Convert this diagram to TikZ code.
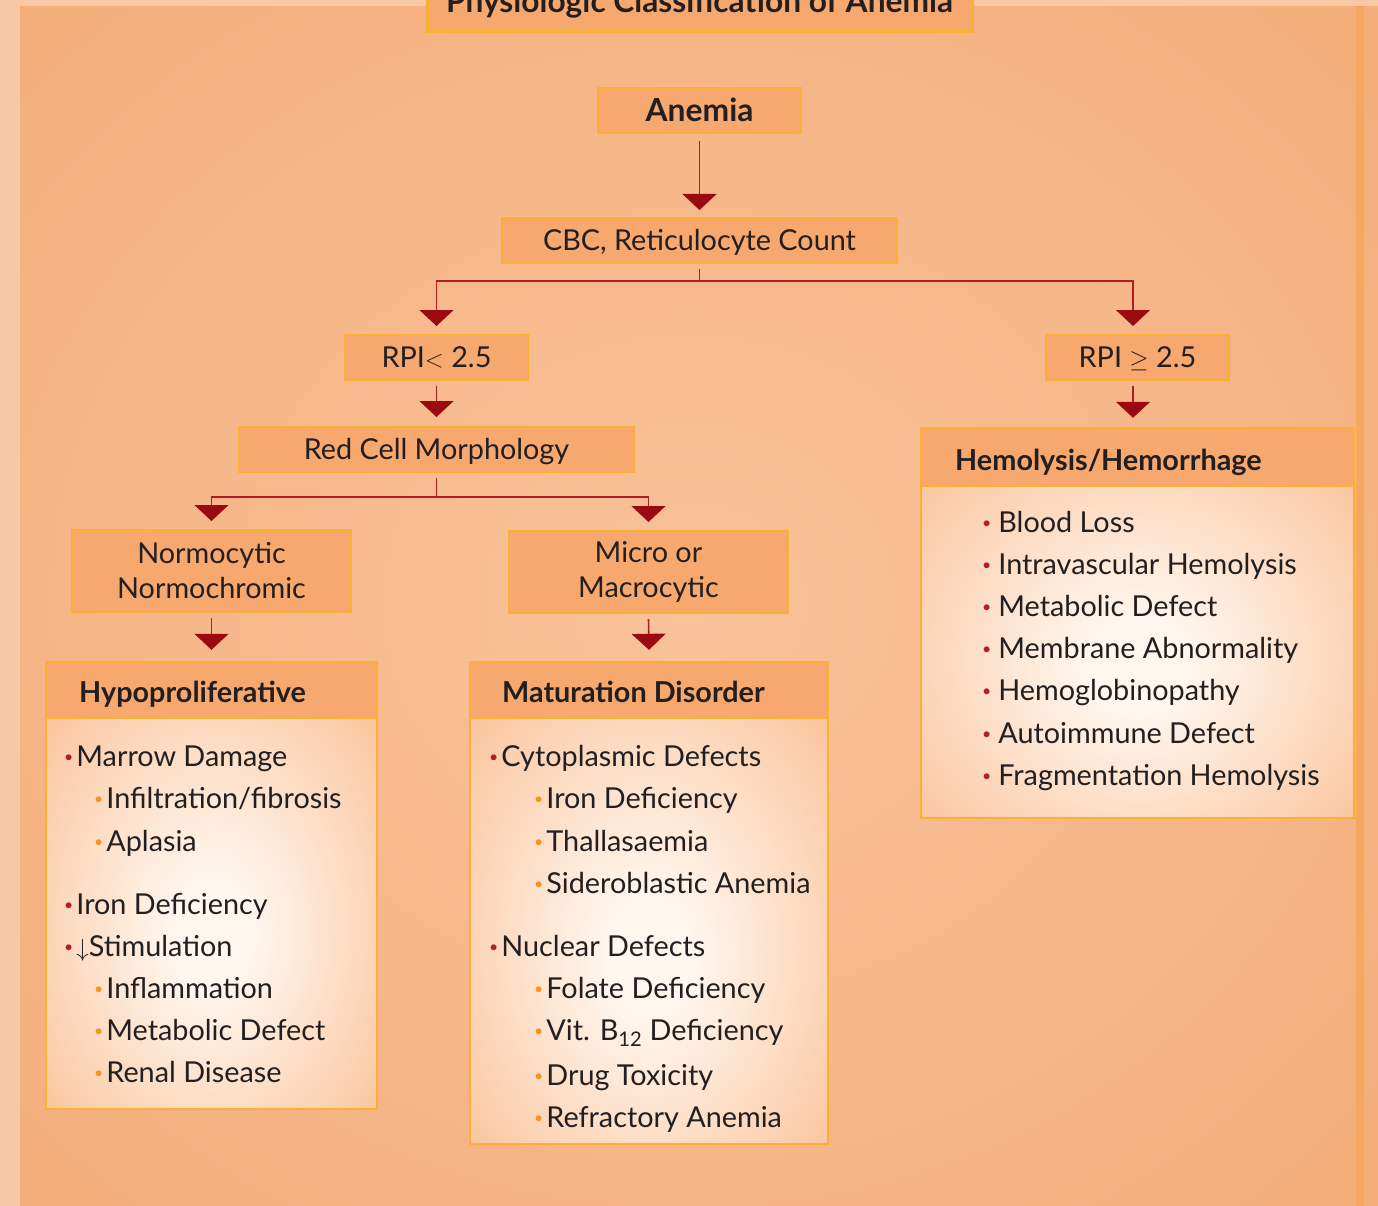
\documentclass[tikz,border=0pt]{standalone}
\usepackage{fontspec}
\setmainfont{Lato}
\usetikzlibrary{arrows.meta}
\definecolor{pagein}{RGB}{249,194,154}
\definecolor{pageout}{RGB}{241,165,110}
\definecolor{pagerim}{RGB}{249,201,166}
\definecolor{boxfill}{RGB}{247,168,110}
\definecolor{boxedge}{RGB}{251,176,52}
\definecolor{linkred}{RGB}{178,28,34}
\definecolor{tipred}{RGB}{155,10,16}
\definecolor{inkdark}{RGB}{35,31,32}
\definecolor{dotred}{RGB}{180,30,40}
\definecolor{dotorange}{RGB}{247,148,29}
\definecolor{glowin}{RGB}{255,246,238}
\pgfdeclareradialshading{glow}{\pgfpoint{0bp}{-6bp}}{color(0bp)=(glowin); color(6bp)=(glowin); color(50bp)=(boxfill); color(80bp)=(boxfill)}
\pgfdeclareradialshading{pageglow}{\pgfpoint{0bp}{0bp}}{color(0bp)=(pagein); color(50bp)=(pageout); color(75bp)=(pageout)}
\newcommand{\reddot}{\textcolor{dotred}{\raisebox{.25ex}{\scalebox{.55}{\textbullet}}}\hspace{3pt}}
\newcommand{\orangedot}{\textcolor{dotorange}{\raisebox{.25ex}{\scalebox{.55}{\textbullet}}}\hspace{3pt}}
\begin{document}
\begin{tikzpicture}[x=1pt,y=-1pt,
	smallbox/.style={draw=boxedge,line width=2pt,fill=boxfill,inner sep=0pt,text=inkdark,font=\fontsize{28.8}{35}\selectfont,align=center},
	bigbox/.style={shading=glow,inner sep=0pt},
	rim/.style={draw=boxedge,line width=2pt},
	head/.style={anchor=base west,inner sep=0pt,text=inkdark,font=\fontsize{28.8}{33}\selectfont\bfseries},
	item/.style={anchor=base west,inner sep=0pt,text=inkdark,font=\fontsize{28.8}{33}\selectfont},
	link/.style={draw=linkred,line width=1.6pt,-{Triangle[width=34pt,length=16pt,color=tipred]}}]
	\useasboundingbox (0,0) rectangle (1378,1206);
	\shade[shading=pageglow] (0,0) rectangle (1378,1206);
	\fill[pagerim] (0,0) rectangle (20,1206);
	\fill[pagerim] (0,0) rectangle (1378,6);
	\fill[boxedge!25!pageout] (1356,6) rectangle (1364,1206);
	\node[smallbox,minimum width=545,minimum height=58,text height=20,text depth=0,line width=3pt,font=\fontsize{31.7}{36}\selectfont\bfseries] (title) at (699.5,3) {Physiologic Classification of Anemia};
	\node[smallbox,minimum width=203,minimum height=45,text height=23,text depth=0,font=\fontsize{31.8}{36}\selectfont\bfseries] (anemia) at (699.5,110.5) {Anemia};
	\node[smallbox,minimum width=395,minimum height=45,text height=20,text depth=0] (cbc) at (699.5,240.5) {CBC, Reticulocyte Count};
	\node[smallbox,minimum width=183,minimum height=45,text height=20,text depth=0] (rpilow) at (436.5,357.5) {RPI$<$\ 2.5};
	\node[smallbox,minimum width=183,minimum height=45,text height=20,text depth=0] (rpihigh) at (1137.5,357.5) {RPI $\geq$ 2.5};
	\node[smallbox,minimum width=395,minimum height=45,text height=20,text depth=0] (redcell) at (436.5,449.5) {Red Cell Morphology};
	\node[smallbox,minimum width=279,minimum height=82] (normo) at (211.5,571) {Normocytic\\Normochromic};
	\node[smallbox,minimum width=279,minimum height=82] (micro) at (648.5,572) {Micro or\\Macrocytic};
	\node[bigbox,minimum width=433,minimum height=390] (hemo) at (1137.5,623) {};
	\node[bigbox,minimum width=331,minimum height=447] (hypo) at (211.5,885.5) {};
	\node[bigbox,minimum width=358,minimum height=482] (matur) at (649,903) {};
	\fill[boxfill] (hemo.north west) rectangle ([yshift=-58pt]hemo.north east);
	\fill[boxfill] (hypo.north west) rectangle ([yshift=-56pt]hypo.north east);
	\fill[boxfill] (matur.north west) rectangle ([yshift=-56pt]matur.north east);
	\draw[rim] (hemo.north west) rectangle (hemo.south east);
	\draw[rim] (hypo.north west) rectangle (hypo.south east);
	\draw[rim] (matur.north west) rectangle (matur.south east);
	\draw[rim,line width=1.5pt] ([yshift=-58pt]hemo.north west) -- ([yshift=-58pt]hemo.north east);
	\draw[rim,line width=1.5pt] ([yshift=-56pt]hypo.north west) -- ([yshift=-56pt]hypo.north east);
	\draw[rim,line width=1.5pt] ([yshift=-56pt]matur.north west) -- ([yshift=-56pt]matur.north east);
	\draw[link] ([yshift=-7pt]anemia.south) -- ([yshift=7pt]cbc.north);
	\draw[link] ([yshift=-5pt]cbc.south) -- ++(0,12) -| ([yshift=8pt]rpilow.north);
	\draw[link] ([yshift=-5pt]cbc.south) -- ++(0,12) -| ([xshift=-4.5pt,yshift=8pt]rpihigh.north);
	\draw[link] ([yshift=-5pt]rpilow.south) -- ([yshift=9pt]redcell.north);
	\draw[link] ([xshift=-4.5pt,yshift=-5pt]rpihigh.south) -- ([xshift=-4.5pt,yshift=10pt]hemo.north);
	\draw[link] ([yshift=-5pt]redcell.south) -- ++(0,19) -| ([yshift=8pt]normo.north);
	\draw[link] ([yshift=-5pt]redcell.south) -- ++(0,19) -| ([yshift=8pt]micro.north);
	\draw[link] ([yshift=-5pt]normo.south) -- ([yshift=12pt]hypo.north);
	\draw[link] ([yshift=-5pt]micro.south) -- ([yshift=12pt]matur.north);
	\node[head] (hemohead) at (955,470) {Hemolysis/Hemorrhage};
	\node[head] (hypohead) at (79,702) {Hypoproliferative};
	\node[head] (maturhead) at (502,702) {Maturation Disorder};
	\node[item] (hemo1) at (982,532) {\reddot\hspace{4pt}Blood Loss};
	\node[item] (hemo2) at (982,574) {\reddot\hspace{4pt}Intravascular Hemolysis};
	\node[item] (hemo3) at (982,616) {\reddot\hspace{4pt}Metabolic Defect};
	\node[item] (hemo4) at (982,658) {\reddot\hspace{4pt}Membrane Abnormality};
	\node[item] (hemo5) at (982,700) {\reddot\hspace{4pt}Hemoglobinopathy};
	\node[item] (hemo6) at (982,743) {\reddot\hspace{4pt}Autoimmune Defect};
	\node[item] (hemo7) at (982,785) {\reddot\hspace{4pt}Fragmentation Hemolysis};
	\node[item] (hypo1) at (64,766) {\reddot Marrow Damage};
	\node[item] (hypo2) at (94,808) {\orangedot Infiltration/fibrosis};
	\node[item] (hypo3) at (94,851) {\orangedot Aplasia};
	\node[item] (hypo4) at (64,914) {\reddot Iron Deficiency};
	\node[item] (hypo5) at (64,956) {\reddot$\downarrow$Stimulation};
	\node[item] (hypo6) at (94,998) {\orangedot Inflammation};
	\node[item] (hypo7) at (94,1040) {\orangedot Metabolic Defect};
	\node[item] (hypo8) at (94,1082) {\orangedot Renal Disease};
	\node[item] (matur1) at (489,766) {\reddot Cytoplasmic Defects};
	\node[item] (matur2) at (534,808) {\orangedot Iron Deficiency};
	\node[item] (matur3) at (534,851) {\orangedot Thallasaemia};
	\node[item] (matur4) at (534,893) {\orangedot Sideroblastic Anemia};
	\node[item] (matur5) at (489,956) {\reddot Nuclear Defects};
	\node[item] (matur6) at (534,998) {\orangedot Folate Deficiency};
	\node[item] (matur7) at (534,1040) {\orangedot Vit. B\textsubscript{12} Deficiency};
	\node[item] (matur8) at (534,1085) {\orangedot Drug Toxicity};
	\node[item] (matur9) at (534,1127) {\orangedot Refractory Anemia};
\end{tikzpicture}
\end{document}
